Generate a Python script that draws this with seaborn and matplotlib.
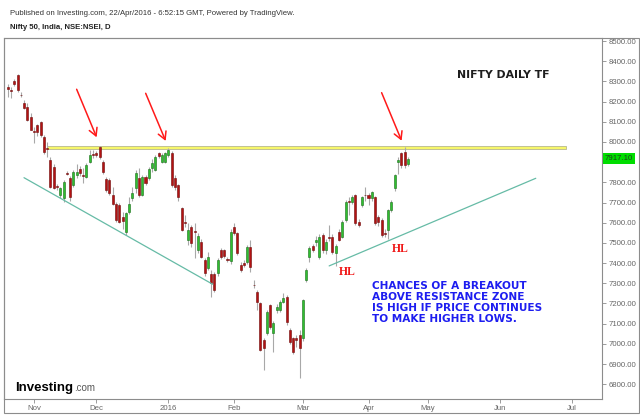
import numpy as np
import pandas as pd
import matplotlib
matplotlib.use("Agg")
import matplotlib.pyplot as plt
import matplotlib.transforms as mtransforms
from matplotlib.patches import Rectangle
import seaborn as sns

# Nifty 50 daily sessions, 20 Oct 2015 .. 22 Apr 2016 (bar index 0 = 2 Nov 2015)
first_bar = -8

opens = [
    8273, 8256, 8303, 8331, 8235, 8193, 8175, 8125,
    8053, 8083, 8099, 8026, 7971, 7910, 7877, 7781, 7737, 7722, 7846, 7821, 7786, 7835, 7865, 7837, 7827, 7903, 7938,
    7946, 7977, 7902, 7816, 7811, 7736, 7695, 7687, 7628, 7556, 7654, 7721, 7770, 7821, 7737, 7827, 7821, 7870, 7861, 7943, 7903, 7903,
    7936, 7944, 7823, 7786, 7671, 7605, 7515, 7580, 7558, 7465, 7506, 7415, 7374, 7348, 7348, 7349, 7465, 7465, 7420, 7408,
    7580, 7547, 7390, 7401, 7407, 7480, 7293, 7258, 7200, 7019, 7052, 7192, 7052, 7168, 7168, 7209, 7234, 7068, 7027, 7027, 7043,
    7028, 7316, 7432, 7485, 7502, 7432, 7537, 7465, 7530, 7530, 7449, 7556, 7531, 7614, 7706, 7704, 7736, 7605, 7688, 7739,
    7737, 7721, 7728, 7630, 7613, 7550, 7564, 7663, 7770, 7903, 7944, 7952, 7892,
]
highs = [
    8287, 8273, 8313, 8338, 8248, 8208, 8193, 8141,
    8075, 8091, 8106, 8034, 8001, 7926, 7890, 7790, 7779, 7814, 7855, 7829, 7859, 7889, 7879, 7869, 7894, 7961, 7961,
    7956, 7981, 7910, 7824, 7819, 7778, 7703, 7698, 7653, 7653, 7728, 7779, 7859, 7869, 7834, 7834, 7874, 7914, 7935, 7951, 7946, 7951,
    7969, 7954, 7834, 7794, 7678, 7638, 7598, 7588, 7597, 7547, 7517, 7426, 7456, 7365, 7355, 7426, 7477, 7472, 7431, 7567,
    7598, 7552, 7406, 7416, 7491, 7516, 7315, 7266, 7209, 7028, 7169, 7199, 7114, 7195, 7215, 7250, 7240, 7078, 7033, 7043, 7068,
    7224, 7376, 7487, 7497, 7532, 7542, 7547, 7517, 7588, 7542, 7497, 7568, 7613, 7714, 7729, 7739, 7743, 7618, 7734, 7779,
    7749, 7759, 7733, 7638, 7623, 7568, 7668, 7714, 7839, 7926, 7951, 7977, 7925,
]
lows = [
    8224, 8216, 8278, 8248, 8223, 8163, 8103, 8057,
    7993, 8031, 8026, 7941, 7927, 7771, 7765, 7760, 7724, 7704, 7834, 7709, 7779, 7819, 7829, 7799, 7819, 7896, 7921,
    7926, 7916, 7840, 7754, 7739, 7688, 7603, 7598, 7568, 7538, 7643, 7709, 7749, 7729, 7734, 7789, 7814, 7849, 7855, 7921, 7896, 7896,
    7926, 7775, 7764, 7709, 7558, 7578, 7488, 7478, 7426, 7452, 7427, 7336, 7366, 7234, 7255, 7336, 7422, 7427, 7406, 7397,
    7538, 7442, 7356, 7381, 7396, 7356, 7275, 7168, 6964, 6871, 7044, 7074, 6962, 7155, 7160, 7200, 7095, 6998, 6948, 6983, 6829,
    7014, 7306, 7407, 7457, 7487, 7422, 7452, 7447, 7508, 7447, 7387, 7508, 7523, 7604, 7639, 7694, 7588, 7578, 7679, 7709,
    7689, 7709, 7588, 7583, 7528, 7530, 7518, 7654, 7759, 7841, 7871, 7871, 7881,
]
closes = [
    8261, 8252, 8287, 8257, 8231, 8169, 8110, 8060,
    8048, 8050, 8034, 7952, 7967, 7779, 7771, 7777, 7771, 7802, 7842, 7729, 7852, 7852, 7845, 7833, 7885, 7936, 7934,
    7936, 7924, 7853, 7762, 7747, 7695, 7613, 7605, 7608, 7646, 7695, 7747, 7844, 7737, 7827, 7799, 7865, 7894, 7925, 7929, 7936, 7944,
    7961, 7787, 7778, 7729, 7564, 7598, 7564, 7499, 7554, 7534, 7432, 7349, 7431, 7299, 7266, 7415, 7432, 7437, 7416, 7555,
    7548, 7449, 7366, 7391, 7480, 7382, 7289, 7209, 6970, 6978, 7159, 7085, 7105, 7184, 7209, 7225, 7106, 7010, 6961, 7019, 6978,
    7216, 7366, 7473, 7465, 7512, 7530, 7465, 7506, 7526, 7457, 7487, 7515, 7605, 7704, 7702, 7729, 7597, 7588, 7729, 7735,
    7721, 7753, 7597, 7605, 7540, 7546, 7662, 7704, 7835, 7911, 7887, 7887, 7917.1,
]
last_price = 7917.1

# month ticks sit on the first session of each month (future months extrapolated)
month_labels = ["Nov", "Dec", "2016", "Feb", "Mar", "Apr", "May", "Jun", "Jul"]
month_bars = [0, 19, 41, 61, 82, 102, 120, 142, 164]
price_ticks = list(range(6800, 8501, 100))
hidden_tick = 7900  # covered by the last-price tag

# drawings: falling support, rising support (higher lows), resistance zone, arrows
falling_bars = [-3.05, 54.5]
falling_prices = [7823, 7295]
rising_bars = [90.0, 153.0]
rising_prices = [7386, 7820]
zone_bars = [3.9, 162.1]
zone_prices = [7964, 7980]
arrow_tails = [(13.0, 8261), (34.05, 8241), (106.0, 8244)]
arrow_heads = [(19.1, 8023), (40.15, 8005), (112.1, 8006)]

note_lines = [
    "CHANCES OF A BREAKOUT",
    "ABOVE RESISTANCE ZONE",
    "IS HIGH IF PRICE CONTINUES",
    "TO MAKE HIGHER LOWS.",
]


def main():
    sns.set_theme(style="white")
    plt.rcParams["font.family"] = ["Liberation Sans", "DejaVu Sans"]

    df = pd.DataFrame({"open": opens, "high": highs, "low": lows, "close": closes})
    df["bar"] = np.arange(len(df)) + first_bar
    up = df["close"] >= df["open"]

    fig = plt.figure(figsize=(6.4, 4.15), dpi=100)
    ax = fig.add_axes([4 / 640, 16 / 415, 598 / 640, 361 / 415])
    ax.set_facecolor("white")

    # 1. resistance zone behind the candles
    ax.add_patch(Rectangle((zone_bars[0], zone_prices[0]), zone_bars[1] - zone_bars[0],
                           zone_prices[1] - zone_prices[0], facecolor="#f6f66a",
                           edgecolor="#b8b88e", lw=0.6, zorder=1.5))

    # 2. candles
    ax.vlines(df["bar"], df["low"], df["high"], color="#a8a8a8", lw=0.8, zorder=2)
    body = (df["close"] - df["open"]).abs()
    bottom = df[["open", "close"]].min(axis=1)
    ax.bar(df["bar"][up], body[up], bottom=bottom[up], width=0.62,
           color="#2fbf2f", edgecolor="#1b6b1b", lw=0.4, zorder=3)
    ax.bar(df["bar"][~up], body[~up], bottom=bottom[~up], width=0.62,
           color="#b31212", edgecolor="#6e0a0a", lw=0.4, zorder=3)

    # 3. trend lines
    sns.lineplot(x=falling_bars, y=falling_prices, ax=ax, color="#66bba6", lw=0.9, zorder=4)
    sns.lineplot(x=rising_bars, y=rising_prices, ax=ax, color="#66bba6", lw=0.9, zorder=4)

    # 4. arrows at the touches of the zone
    for tail, head in zip(arrow_tails, arrow_heads):
        ax.annotate("", xy=head, xytext=tail,
                    arrowprops=dict(arrowstyle="->,head_length=0.45,head_width=0.25",
                                    color="#ff1a1a", lw=1.1, shrinkA=0, shrinkB=0),
                    zorder=5)

    # 5. text labels
    ax.text(143.1, 8315, "NIFTY DAILY TF", ha="center", va="baseline", fontsize=7.8,
            fontweight="bold", family="DejaVu Sans", color="#1e1e1e")
    for bar, price in [(95.6, 7341), (111.6, 7456)]:
        ax.text(bar, price, "HL", ha="center", va="baseline", fontsize=8.5,
                fontweight="bold", family="Liberation Serif", color="#f01818")
    for i, line in enumerate(note_lines):
        ax.annotate(line, xy=(103.1, 7270), xytext=(0, -7.8 * i), textcoords="offset points",
                    ha="left", va="baseline", fontsize=7.6, fontweight="bold",
                    family="DejaVu Sans", color="#1d1df0")

    # 6. axes
    ax.set_xlim(-9.15, 173.2)
    ax.set_ylim(6726.8, 8514.9)
    ax.yaxis.tick_right()
    ax.set_yticks(price_ticks)
    ax.set_yticklabels(["" if v == hidden_tick else f"{v:.2f}" for v in price_ticks])
    ax.set_xticks(month_bars)
    ax.set_xticklabels(month_labels)
    ax.tick_params(axis="both", bottom=True, right=True, left=False, top=False,
                   labelright=True, labelleft=False, length=3, width=0.6,
                   color="#8c8c8c", labelsize=5.6, labelcolor="#666666", pad=1.5)
    for side in ax.spines.values():
        side.set_visible(True)
        side.set_color("#8c8c8c")
        side.set_linewidth(0.8)
    ax.grid(False)

    # last price tag on the price scale
    tag = mtransforms.blended_transform_factory(ax.transAxes, ax.transData)
    ax.text(1.005, last_price, f"{last_price:.2f}", transform=tag, ha="left", va="center",
            fontsize=5.6, color="#1f3f1f", clip_on=False, zorder=10,
            bbox=dict(boxstyle="square,pad=0.25", fc="#00dd00", ec="none"))

    # 7. outer frame, header and logo
    fig.add_artist(Rectangle((4 / 640, 2 / 415), 635 / 640, 375 / 415, transform=fig.transFigure,
                             fill=False, edgecolor="#8c8c8c", lw=0.8))
    fig.text(10 / 640, 1 - 15 / 415,
             "Published on Investing.com, 22/Apr/2016 - 6:52:15 GMT, Powered by TradingView.",
             fontsize=5.6, color="#333333", va="baseline")
    fig.text(10 / 640, 1 - 29.3 / 415, "Nifty 50, India, NSE:NSEI, D",
             fontsize=5.6, fontweight="bold", color="#222222", va="baseline")
    fig.text(15 / 640, 1 - 390.7 / 415, "Investing", fontsize=9.5, fontweight="bold",
             color="black", va="baseline")
    fig.text(74.5 / 640, 1 - 390.7 / 415, ".com", fontsize=7, color="#555555", va="baseline")

    fig.savefig("out.png", dpi=100)
    plt.close(fig)


if __name__ == "__main__":
    main()
